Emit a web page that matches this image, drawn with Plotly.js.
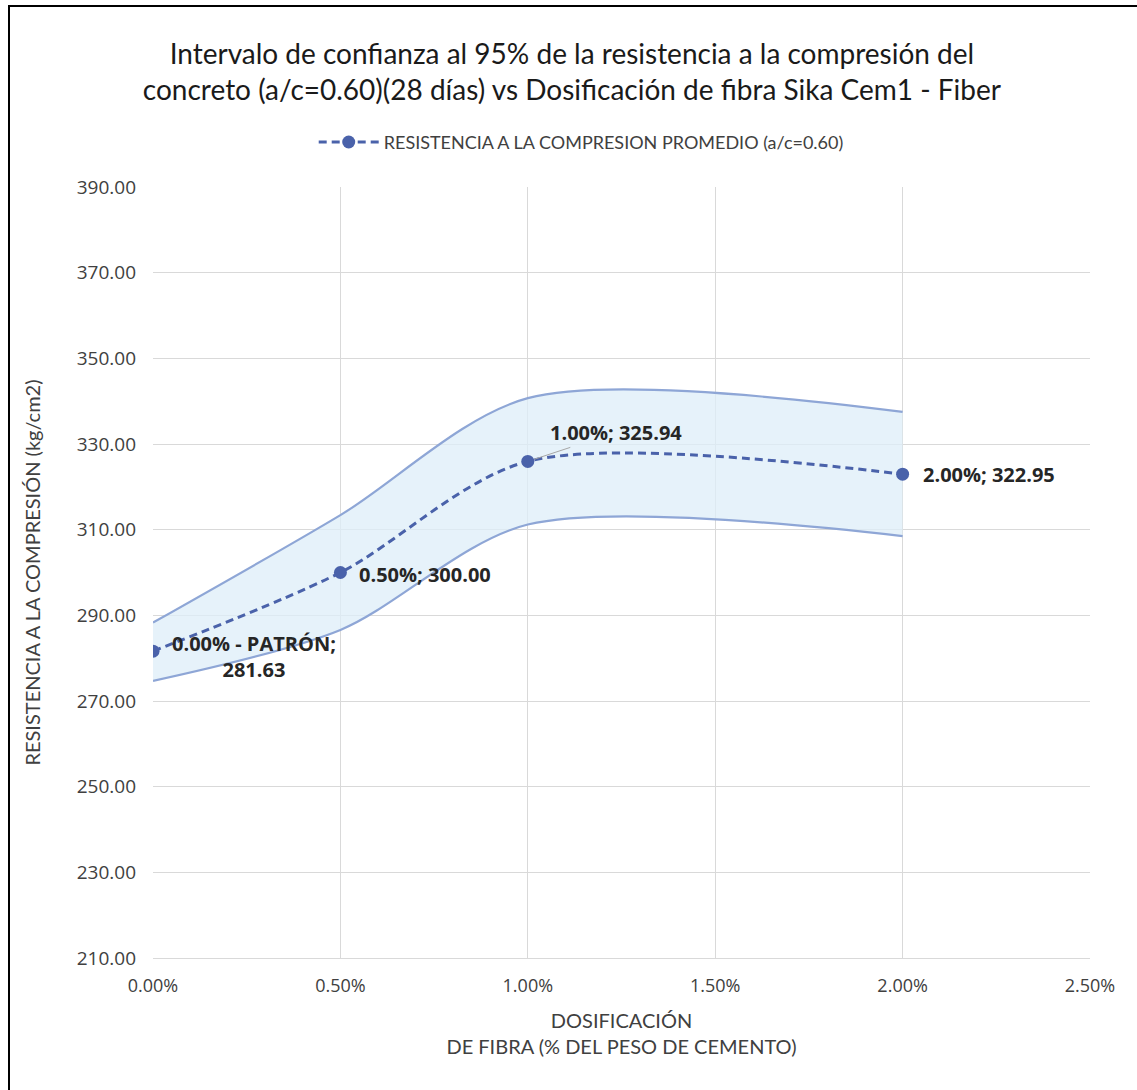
<!DOCTYPE html>
<html>
<head>
<meta charset="utf-8">
<script src="https://cdn.plot.ly/plotly-3.0.1.min.js"></script>
<style>
html,body{margin:0;padding:0;background:#fff;}
#chart{width:1137px;height:1090px;position:absolute;left:0;top:0;}
#frame{position:absolute;left:8px;top:5px;width:1140px;height:1100px;border-left:2px solid #000;border-top:2px solid #000;pointer-events:none;}
</style>
</head>
<body>
<div id="chart"></div>
<div id="frame"></div>
<script>
// Data
var dosage = [0, 0.005, 0.01, 0.02];
var meanStrength = [281.63, 300.00, 325.94, 322.95];
var upperCI = [288.3, 313.4, 340.7, 337.5];
var lowerCI = [274.7, 286.6, 311.2, 308.5];
var labelSuffix = [" - PATRÓN;<br>", "; ", "; ", "; "];
var seriesName = "RESISTENCIA A LA COMPRESION PROMEDIO (a/c=0.60)";
var yTicks = [210, 230, 250, 270, 290, 310, 330, 350, 370, 390];

var bandLine = '#8EA6D6';
var meanColor = '#4A62AA';
var smooth = 0.85;

var traces = [
  {x: dosage, y: lowerCI, mode: 'lines', line: {shape: 'spline', smoothing: smooth, color: bandLine, width: 2.2},
   showlegend: false, hoverinfo: 'skip'},
  {x: dosage, y: upperCI, mode: 'lines', line: {shape: 'spline', smoothing: smooth, color: bandLine, width: 2.2},
   fill: 'tonexty', fillcolor: 'rgba(222,238,248,0.75)', showlegend: false, hoverinfo: 'skip'},
  {x: dosage, y: meanStrength, mode: 'lines+markers', name: seriesName,
   line: {shape: 'spline', smoothing: smooth, color: meanColor, width: 3, dash: '8px,5px'},
   marker: {size: 13, color: meanColor}}
];

function lbl(i) {
  return (dosage[i] * 100).toFixed(2) + '%' + labelSuffix[i] + meanStrength[i].toFixed(2);
}
var lblFont = {family: 'Open Sans, sans-serif', size: 20, color: '#262626'};
var annotations = [
  {x: dosage[0], y: meanStrength[0], text: '<b>' + lbl(0) + '</b>', showarrow: false, xanchor: 'center', yanchor: 'middle', xshift: 101, yshift: -5, align: 'center', font: lblFont},
  {x: dosage[1], y: meanStrength[1], text: '<b>' + lbl(1) + '</b>', showarrow: false, xanchor: 'left', yanchor: 'middle', xshift: 17, yshift: -2, font: lblFont},
  {x: dosage[2], y: meanStrength[2], text: '<b>' + lbl(2) + '</b>', showarrow: true, arrowhead: 0, arrowwidth: 1, arrowcolor: '#A6A6A6', ax: 88, ay: -29, standoff: 7, font: lblFont},
  {x: dosage[3], y: meanStrength[3], text: '<b>' + lbl(3) + '</b>', showarrow: false, xanchor: 'left', yanchor: 'middle', xshift: 18, yshift: 0, font: lblFont}
];

var layout = {
  width: 1137, height: 1090,
  margin: {l: 153, r: 47, t: 187, b: 132},
  paper_bgcolor: '#fff', plot_bgcolor: '#fff',
  font: {family: 'Open Sans, sans-serif', color: '#404040'},
  title: {text: 'Intervalo de confianza al 95% de la resistencia a la compresión del<br>concreto (a/c=0.60)(28 días) vs Dosificación de fibra Sika Cem1 - Fiber',
          font: {family: 'Lato, sans-serif', size: 28, color: '#1a1a1a'},
          x: 0.503, xanchor: 'center', y: 0.9415, yanchor: 'middle', xref: 'container', yref: 'container'},
  showlegend: true,
  legend: {orientation: 'h', x: 0.457, xanchor: 'center', y: 1.058, yanchor: 'middle',
           font: {family: 'Lato, sans-serif', size: 18, color: '#404040'}, itemwidth: 60, bgcolor: 'rgba(0,0,0,0)'},
  xaxis: {range: [0, 0.025], dtick: 0.005, tick0: 0, tickformat: '.2%', showgrid: true, gridcolor: '#D9D9D9', gridwidth: 1,
          zeroline: false, showline: true, linecolor: '#D9D9D9', linewidth: 1, ticks: '', ticklabelstandoff: 11,
          tickfont: {size: 18, color: '#404040'},
          title: {text: 'DOSIFICACIÓN<br>DE FIBRA (% DEL PESO DE CEMENTO)', font: {family: 'Lato, sans-serif', size: 20, color: '#404040'}, standoff: 18},
          fixedrange: true},
  yaxis: {range: [210, 390], tickvals: yTicks, tickformat: '.2f', showgrid: true, gridcolor: '#D9D9D9', gridwidth: 1,
          zeroline: false, showline: false, ticks: '', ticklabelstandoff: 16,
          tickfont: {size: 19, color: '#404040'},
          title: {text: 'RESISTENCIA A LA COMPRESIÓN (kg/cm2)', font: {family: 'Lato, sans-serif', size: 20, color: '#404040'}, standoff: 30},
          fixedrange: true},
  annotations: annotations
};

Plotly.newPlot('chart', traces, layout, {displayModeBar: false, staticPlot: true});
</script>
</body>
</html>
